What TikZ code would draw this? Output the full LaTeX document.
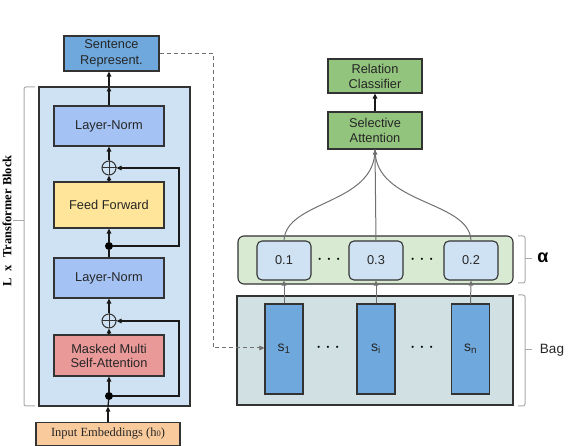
\documentclass[tikz,border=0pt]{standalone}
\usepackage{fontspec}
\setmainfont{Liberation Sans}
\newfontfamily\serifr{Liberation Serif}
\usetikzlibrary{arrows.meta}
\definecolor{sentc}{HTML}{6FA8DC}
\definecolor{outerc}{HTML}{CFE2F3}
\definecolor{lnc}{HTML}{A4C2F4}
\definecolor{ffc}{HTML}{FFE599}
\definecolor{mmc}{HTML}{EA9999}
\definecolor{inpc}{HTML}{F9CB9C}
\definecolor{greenc}{HTML}{93C47D}
\definecolor{alphac}{HTML}{D9EAD3}
\definecolor{bagc}{HTML}{D0E0E3}
\definecolor{edgec}{HTML}{333333}
\definecolor{greyc}{HTML}{707070}
\definecolor{bracec}{HTML}{AAAAAA}
\begin{document}
\begin{tikzpicture}[x=1pt,y=-1pt,
  txt/.style={font=\fontsize{12.8}{14.5}\selectfont, text=black!85},
  box/.style={txt, draw=edgec, line width=1.1pt, align=center, inner sep=0pt, minimum width=110, minimum height=40},
  plusnode/.style={circle, draw=edgec, line width=1pt, minimum size=14, inner sep=0pt},
  dotnode/.style={circle, fill=black, minimum size=8, inner sep=0pt},
  flow/.style={draw=black!90, line width=1.3pt},
  arr/.style={flow, -{Triangle[length=5pt,width=4.5pt]}},
  garr/.style={draw=greyc, line width=1pt, -{Triangle[length=5pt,width=4.5pt]}},
  gline/.style={draw=greyc, line width=1pt},
  brace/.style={draw=bracec, line width=1pt, rounded corners=2pt},
  ell/.style={font=\fontsize{22}{22}\selectfont\bfseries, inner sep=0pt}
]
\useasboundingbox (0,0) rectangle (574,446);

% ---------- left: transformer ----------
\node[draw=edgec, line width=1.1pt, fill=outerc, minimum width=151, minimum height=319, inner sep=0pt] (outer) at (114.5,246.5) {};
\node[box, fill=sentc, minimum width=95, minimum height=35, font=\fontsize{12.8}{16}\selectfont] (sent) at (111.5,53.5) {Sentence\\Represent.};
\node[box, fill=lnc] (ln1) at (109,126) {Layer-Norm};
\node[plusnode] (p1) at (109,168) {};
\node[box, fill=ffc, minimum height=46] (ff) at (109,205) {Feed Forward};
\node[dotnode] (d1) at (109,246) {};
\node[box, fill=lnc] (ln2) at (109,278) {Layer-Norm};
\node[plusnode] (p2) at (109,321) {};
\node[box, fill=mmc, minimum height=41, font=\fontsize{12.8}{14}\selectfont] (mm) at (109,355.5) {Masked Multi\\Self-Attention};
\node[dotnode] (d2) at (109,396) {};
\node[box, fill=inpc, minimum width=144, minimum height=23, font=\serifr\fontsize{12.5}{13}\selectfont] (inp) at (108,434) {Input Embeddings (h{\fontsize{8.5}{8.5}\selectfont 0})};

\draw[edgec, line width=1pt] (p1.north) -- (p1.south) (p1.west) -- (p1.east);
\draw[edgec, line width=1pt] (p2.north) -- (p2.south) (p2.west) -- (p2.east);

\coordinate (c1) at (179,246);
\coordinate (c2) at (179,396);

\draw[arr] (inp.north) -- (inp.north |- outer.south);
\draw[flow] (inp.north |- outer.south) -- (d2);
\draw[arr] (d2) -- (mm.south);
\draw[arr] (mm.north) -- (p2.south);
\draw[arr] (p2.north) -- (ln2.south);
\draw[flow] (ln2.north) -- (d1);
\draw[arr] (d1) -- (ff.south);
\draw[arr] (ff.north) -- (p1.south);
\draw[arr] (p1.north) -- (ln1.south);
\draw[arr] (ln1.north) -- (ln1.north |- outer.north);
\draw[arr] (ln1.north |- outer.north) -- (ln1.north |- sent.south);
\draw[arr] (d1) -- (c1) -- (c1 |- p1) -- (p1.east);
\draw[arr] (d2) -- (c2) -- (c2 |- p2) -- (p2.east);

% left brace + label
\coordinate (bl1) at (35,87);
\coordinate (bl2) at (35,406);
\draw[brace] (bl1) -- (24,87) -- (24,406) -- (bl2);
\draw[draw=bracec, line width=1pt] (24,221) -- (13,221);
\node[rotate=90, font=\serifr\bfseries\fontsize{12.5}{12.5}\selectfont, inner sep=0pt] (lbl) at (7,221) {L\,\, x\,\, Transformer Block};

% ---------- right: bag ----------
\node[draw=edgec, line width=1.1pt, fill=bagc, minimum width=276, minimum height=109, inner sep=0pt] (bag) at (375,350.5) {};
\node[draw=edgec, line width=1.1pt, fill=alphac, rounded corners=6pt, minimum width=275, minimum height=48, inner sep=0pt] (alph) at (375.5,260) {};

\node[box, fill=sentc, minimum width=38, minimum height=90, font=\fontsize{14}{14}\selectfont] (s1) at (284,349) {s\textsubscript{1}};
\node[box, fill=sentc, minimum width=38, minimum height=90, font=\fontsize{14}{14}\selectfont] (si) at (376,349) {s\textsubscript{i}};
\node[box, fill=sentc, minimum width=38, minimum height=90, font=\fontsize{14}{14}\selectfont] (sn) at (470.5,349) {s\textsubscript{n}};
\node[ell] (e1) at (328,348) {$\cdots$};
\node[ell] (e2) at (422,348) {$\cdots$};

\node[box, fill=outerc, rounded corners=5pt, minimum width=54, minimum height=39] (a1) at (284,260.5) {0.1};
\node[box, fill=outerc, rounded corners=5pt, minimum width=54, minimum height=39] (a2) at (376,260.5) {0.3};
\node[box, fill=outerc, rounded corners=5pt, minimum width=54, minimum height=39] (a3) at (471,260.5) {0.2};
\node[ell] (e3) at (329,260) {$\cdots$};
\node[ell] (e4) at (422,260) {$\cdots$};

\node[box, fill=greenc, minimum width=94, minimum height=37, font=\fontsize{12.8}{15}\selectfont] (sa) at (375,130.5) {Selective\\Attention};
\node[box, fill=greenc, minimum width=94, minimum height=34, font=\fontsize{12.8}{15}\selectfont] (rc) at (375,76) {Relation\\Classifier};

\draw[arr] (sa.north) -- (rc.south);

\draw[garr] (s1.north) -- (a1.south);
\draw[garr] (si.north) -- (a2.south);
\draw[garr] (sn.north) -- (a3.south);

\draw[gline] (a1.north) .. controls (286,200) and (375,205) .. (sa.south);
\draw[gline] (a3.north) .. controls (469,200) and (375,205) .. (sa.south);
\draw[garr] (a2.north) -- (sa.south);

% dashed link
\coordinate (k1) at (213,53.5);
\coordinate (k2) at (213,348);
\draw[draw=greyc, line width=1pt, dash pattern=on 4pt off 3pt, -{Triangle[length=5pt,width=4.5pt]}] (sent.east) -- (k1) -- (k2) -- (s1.west |- k2);

% right braces
\draw[brace] (518,236) -- (525,236) -- (525,283) -- (518,283);
\draw[draw=bracec, line width=1pt] (525,259) -- (532,259);
\draw[brace] (518,295) -- (525,295) -- (525,406) -- (518,406);
\draw[draw=bracec, line width=1pt] (525,350) -- (532,350);
\node[font=\bfseries\fontsize{18}{18}\selectfont, inner sep=0pt] (alab) at (543,258) {α};
\node[txt, font=\fontsize{13.5}{13.5}\selectfont, inner sep=0pt] (blab) at (552,350) {Bag};
\end{tikzpicture}
\end{document}
